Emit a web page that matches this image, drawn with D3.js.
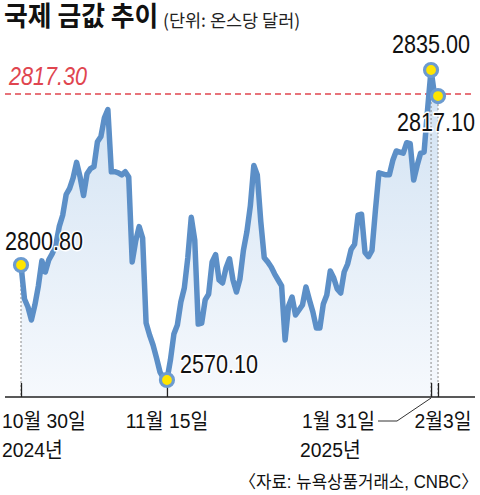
<!DOCTYPE html>
<html>
<head>
<meta charset="utf-8">
<script src="https://cdn.jsdelivr.net/npm/d3@7"></script>
<style>
  body { margin: 0; background: #fff; }
</style>
</head>
<body>
<div id="chart"></div>
<script>
// gold futures, dollars per ounce, one value per step
const prices = [
  2800.8, 2732.6, 2716.5, 2690.5, 2720.6, 2758.7, 2801.2, 2786.7, 2801.3, 2801.9,
  2802.7, 2804.5, 2805.6, 2807.6, 2808.2, 2809.2, 2810.7, 2809.3, 2807.5, 2809.6,
  2810.1, 2810.3, 2812.7, 2813.2, 2815.0, 2815.8, 2809.8, 2809.8, 2809.7, 2809.5,
  2809.8, 2809.3, 2801.1, 2803.1, 2804.5, 2803.4, 2684.4, 2660.4, 2640.3, 2614.2,
  2586.1, 2574.1, 2570.1, 2610.2, 2662.4, 2680.4, 2726.6, 2754.7, 2801.5, 2805.4,
  2803.2, 2682.4, 2684.4, 2730.6, 2742.6, 2801.1, 2801.8, 2770.7, 2764.7, 2794.8,
  2801.4, 2770.7, 2746.6, 2772.7, 2802.2, 2804.0, 2806.5, 2810.4, 2809.5, 2805.0,
  2801.5, 2801.1, 2796.8, 2782.7, 2770.7, 2758.7, 2650.3, 2718.5, 2736.6, 2700.5,
  2710.5, 2720.6, 2756.7, 2730.6, 2706.5, 2674.4, 2674.4, 2722.6, 2740.6, 2788.8,
  2774.7, 2752.6, 2744.6, 2786.7, 2800.9, 2802.3, 2802.8, 2805.6, 2805.7, 2802.0,
  2801.6, 2802.2, 2806.1, 2809.7, 2809.6, 2809.5, 2809.5, 2810.9, 2811.8, 2811.7,
  2811.6, 2812.6, 2812.5, 2809.0, 2810.4, 2811.6, 2811.7, 2815.8, 2835.0, 2817.2,
  2817.1
];

const markedDays = [0, 42, 118, 120];
const refPrice = 2817.3;

const tickDays = [0, 42, 118, 120];
const tickDates = ["10월 30일", "11월 15일", "1월 31일", "2월3일"];
const tickYears = ["2024년", "", "2025년", ""];

const title = "국제 금값 추이";
const unit = "(단위: 온스당 달러)";
const source = "〈자료: 뉴욕상품거래소, CNBC〉";

const width = 480, height = 495;
const axisY = 397;
const numFont = "'Liberation Sans', 'Noto Sans CJK KR', sans-serif";
const krFont = "'Noto Sans CJK KR', sans-serif";
const lineColor = "#5c8fc7";

const svg = d3.select("#chart").append("svg")
  .attr("width", width)
  .attr("height", height)
  .style("display", "block");

// text squeezed horizontally, the graphic uses a condensed face
function label(parent, px, py, str, size, sx, anchor) {
  return parent.append("g")
    .attr("transform", "translate(" + px + "," + py + ") scale(" + sx + ",1)")
    .append("text")
    .attr("text-anchor", anchor || "start")
    .style("font-family", numFont)
    .style("font-size", size + "px")
    .attr("fill", "#111")
    .text(str);
}

const defs = svg.append("defs");
const grad = defs.append("linearGradient")
  .attr("id", "fillGrad")
  .attr("x1", 0).attr("y1", 0).attr("x2", 0).attr("y2", 1);
grad.append("stop").attr("offset", "0%").attr("stop-color", "#d0e1f2");
grad.append("stop").attr("offset", "100%").attr("stop-color", "#f6f9fd");

const x = d3.scaleLinear()
  .domain([0, prices.length - 1])
  .range([21, 438]);

// the graphic is not drawn to one scale, so the y axis is piecewise
const y = d3.scaleLinear()
  .domain([2570.1, 2800.8, 2817.3, 2835])
  .range([380, 265, 94, 70]);

// title
svg.append("g")
  .attr("transform", "translate(4,26) scale(0.94,1)")
  .append("text")
  .style("font-family", krFont)
  .style("font-size", "27.5px")
  .style("font-weight", "700")
  .attr("fill", "#111")
  .text(title);

svg.append("text")
  .attr("x", 163).attr("y", 27)
  .style("font-family", krFont)
  .style("font-size", "17.5px")
  .attr("fill", "#222")
  .text(unit);

// area + line
const area = d3.area()
  .x((d, i) => x(i))
  .y0(axisY)
  .y1(d => y(d));

const line = d3.line()
  .x((d, i) => x(i))
  .y(d => y(d));

svg.append("path")
  .datum(prices)
  .attr("fill", "url(#fillGrad)")
  .attr("d", area);

// reference line
svg.append("line")
  .attr("x1", 5).attr("x2", 475)
  .attr("y1", y(refPrice)).attr("y2", y(refPrice))
  .attr("stroke", "#e0454f")
  .attr("stroke-width", 1.3)
  .attr("stroke-dasharray", "6,4");

label(svg, 9, y(refPrice) - 9, d3.format(".2f")(refPrice), 26, 0.83)
  .style("font-style", "italic")
  .attr("fill", "#e0454f");

// drop lines
svg.selectAll(".drop")
  .data([0, 118, 120])
  .enter().append("line")
  .attr("x1", d => x(d)).attr("x2", d => x(d))
  .attr("y1", d => y(prices[d])).attr("y2", axisY)
  .attr("stroke", "#8a8a8a")
  .attr("stroke-width", 1)
  .attr("stroke-dasharray", "2,2");

svg.append("path")
  .datum(prices)
  .attr("fill", "none")
  .attr("stroke", lineColor)
  .attr("stroke-width", 5.5)
  .attr("stroke-linejoin", "round")
  .attr("d", line);

// x axis
svg.append("line")
  .attr("x1", 5).attr("x2", 475)
  .attr("y1", axisY).attr("y2", axisY)
  .attr("stroke", "#222")
  .attr("stroke-width", 1.5);

const axis = svg.append("g")
  .attr("transform", "translate(0," + axisY + ")")
  .call(d3.axisBottom(x).tickValues(tickDays).tickSize(-14).tickFormat(""));
axis.select(".domain").remove();
axis.selectAll(".tick line").attr("stroke", "#222").attr("stroke-width", 1.3);

const labelPos = [
  { dx: -19, anchor: "start" },
  { dx: 0, anchor: "middle" },
  { dx: -56, anchor: "end" },
  { dx: 5, anchor: "middle" }
];

tickDays.forEach((d, i) => {
  const lx = x(d) + labelPos[i].dx;
  label(svg, lx, 428, tickDates[i], 21, 0.92, labelPos[i].anchor);
  if (tickYears[i]) {
    label(svg, i === 0 ? lx : 300, 457, tickYears[i], 21, 0.92);
  }
});

// leader from 1월 31일 label to its tick
svg.append("path")
  .attr("d", d3.line()([[378, 421], [397, 421], [x(118), axisY + 1]]))
  .attr("fill", "none")
  .attr("stroke", "#333")
  .attr("stroke-width", 1);

// marked points
const labelOffsets = [
  { dx: -16, dy: -15, anchor: "start" },
  { dx: 13, dy: -7, anchor: "start" },
  { dx: 0, dy: -17, anchor: "middle" },
  { dx: 37, dy: 35, anchor: "end" }
];

svg.selectAll(".dot")
  .data(markedDays)
  .enter().append("circle")
  .attr("cx", d => x(d))
  .attr("cy", d => y(prices[d]))
  .attr("r", 6.5)
  .attr("fill", "#ffe500")
  .attr("stroke", "#6c9bd0")
  .attr("stroke-width", 3.2);

markedDays.forEach((d, i) => {
  label(svg, x(d) + labelOffsets[i].dx, y(prices[d]) + labelOffsets[i].dy,
        d3.format(".2f")(prices[d]), 26, 0.83, labelOffsets[i].anchor)
    .style("paint-order", "stroke")
    .attr("stroke", "#fff")
    .attr("stroke-width", 3)
    .attr("stroke-linejoin", "round");
});

// source
label(svg, 478, 488, source, 17.5, 0.96, "end");
</script>
</body>
</html>
